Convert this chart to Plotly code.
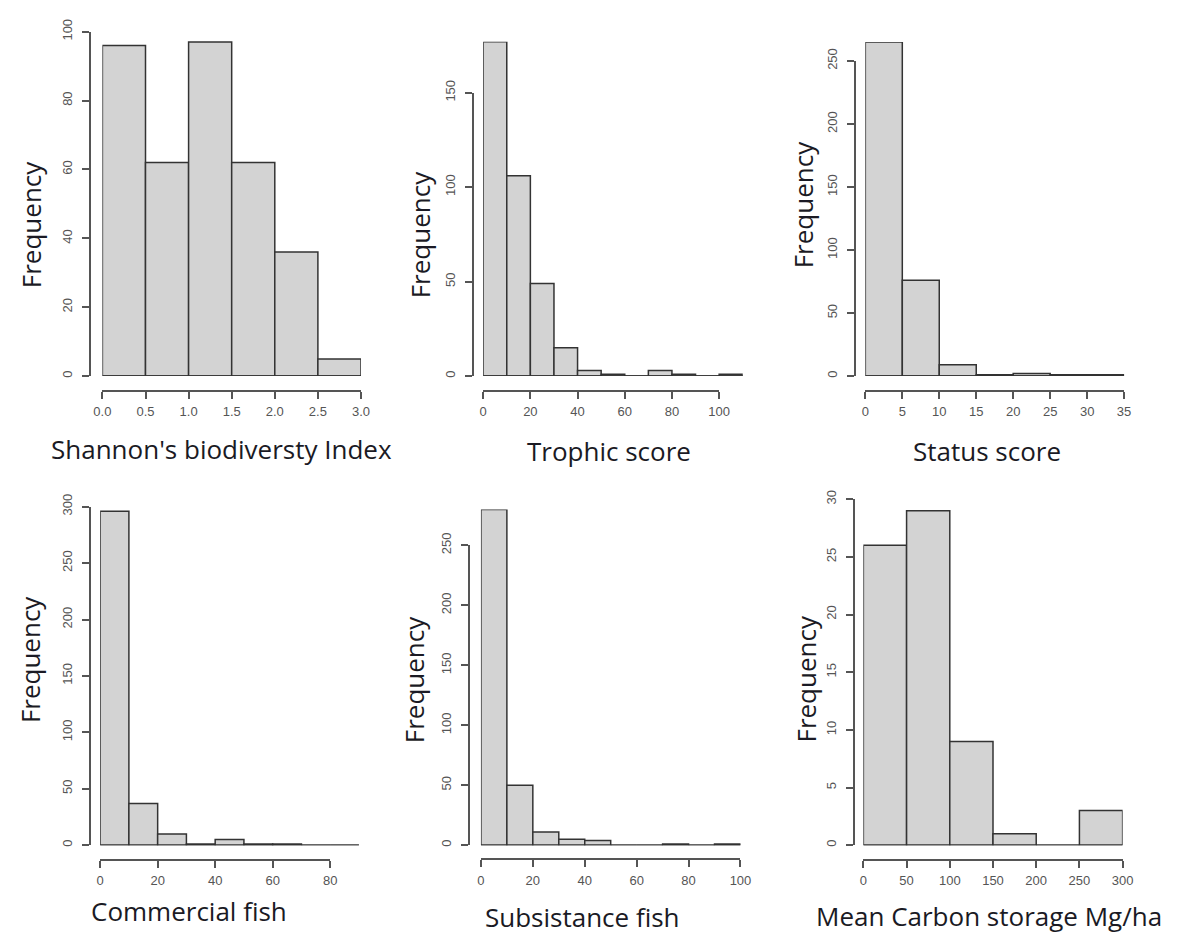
import plotly.graph_objects as go

W, H = 1188, 938

# ---------------- data ----------------
shannon_edges = [0.0, 0.5, 1.0, 1.5, 2.0, 2.5, 3.0]
shannon_counts = [96, 62, 97, 62, 36, 5]
shannon_xticks = [0.0, 0.5, 1.0, 1.5, 2.0, 2.5, 3.0]
shannon_xticklabels = ["0.0", "0.5", "1.0", "1.5", "2.0", "2.5", "3.0"]
shannon_yticks = [0, 20, 40, 60, 80, 100]

trophic_edges = [0, 10, 20, 30, 40, 50, 60, 70, 80, 90, 100, 110]
trophic_counts = [177, 106, 49, 15, 3, 1, 0, 3, 1, 0, 1]
trophic_xticks = [0, 20, 40, 60, 80, 100]
trophic_yticks = [0, 50, 100, 150]

status_edges = [0, 5, 10, 15, 20, 25, 30, 35]
status_counts = [265, 76, 9, 1, 2, 1, 1]
status_xticks = [0, 5, 10, 15, 20, 25, 30, 35]
status_yticks = [0, 50, 100, 150, 200, 250]

commercial_edges = [0, 10, 20, 30, 40, 50, 60, 70, 80, 90]
commercial_counts = [296, 37, 10, 1, 5, 1, 1, 0, 0]
commercial_xticks = [0, 20, 40, 60, 80]
commercial_yticks = [0, 50, 100, 150, 200, 250, 300]

subsistence_edges = [0, 10, 20, 30, 40, 50, 60, 70, 80, 90, 100]
subsistence_counts = [280, 50, 11, 5, 4, 0, 0, 1, 0, 1]
subsistence_xticks = [0, 20, 40, 60, 80, 100]
subsistence_yticks = [0, 50, 100, 150, 200, 250]

carbon_edges = [0, 50, 100, 150, 200, 250, 300]
carbon_counts = [26, 29, 9, 1, 0, 3]
carbon_xticks = [0, 50, 100, 150, 200, 250, 300]
carbon_yticks = [0, 5, 10, 15, 20, 25, 30]

x_titles = ["Shannon's biodiversty Index", "Trophic score", "Status score",
            "Commercial fish", "Subsistance fish", "Mean Carbon storage Mg/ha"]
y_title = "Frequency"

# ---------------- layout (pixel geometry) ----------------
# (x0px, px per unit, y0px, px per unit, y-axis line x, x-axis line y,
#  title cx, title cy, ylabel cx, ylabel cy)
geom = [
    (95.0, 87.67, 369.0, 3.50, 82, 384, 216, 443, 22, 215),
    (482.3, 2.40, 369.0, 1.92, 472, 384, 610, 445, 418, 225),
    (871.0, 7.52, 369.0, 1.281, 860, 384, 995, 445, 807, 195),
    (92.7, 2.925, 845.7, 1.1467, 82, 860.7, 183, 913, 22, 657),
    (480.0, 2.64, 845.7, 1.2187, 468, 860, 583, 919, 412, 678),
    (869.0, 0.879, 845.7, 11.72, 859, 860.7, 997, 918, 811, 677),
]

panels = [
    (shannon_edges, shannon_counts, shannon_xticks, shannon_xticklabels, shannon_yticks),
    (trophic_edges, trophic_counts, trophic_xticks, None, trophic_yticks),
    (status_edges, status_counts, status_xticks, None, status_yticks),
    (commercial_edges, commercial_counts, commercial_xticks, None, commercial_yticks),
    (subsistence_edges, subsistence_counts, subsistence_xticks, None, subsistence_yticks),
    (carbon_edges, carbon_counts, carbon_xticks, None, carbon_yticks),
]

FILL = "#d3d3d3"
EDGE = "#333333"
AXC = "#555555"
TICKFONT = dict(family="Liberation Sans, Arial, sans-serif", size=13, color="#555555")
TITLEFONT = dict(family="Open Sans, sans-serif", size=26, color="#1a1a24")

fig = go.Figure()
layout = dict(width=W, height=H, margin=dict(l=0, r=0, t=0, b=0),
              paper_bgcolor="white", plot_bgcolor="rgba(0,0,0,0)",
              showlegend=False, annotations=[])


def fx(px):
    return px / W


def fy(py):
    return 1 - py / H


for i, ((edges, counts, xt, xtl, yt), g) in enumerate(zip(panels, geom)):
    x0, xs, y0, ys, yline, xline, tcx, tcy, lcx, lcy = g
    m = 2 * i + 1
    d = 2 * i + 2
    mx = "x" if m == 1 else f"x{m}"
    my = "y" if m == 1 else f"y{m}"
    mxk = "xaxis" if m == 1 else f"xaxis{m}"
    myk = "yaxis" if m == 1 else f"yaxis{m}"

    centers = [(edges[k] + edges[k + 1]) / 2 for k in range(len(counts))]
    widths = [edges[k + 1] - edges[k] for k in range(len(counts))]
    # baseline of the histogram (bottom edges of all bins, incl. empty ones)
    fig.add_trace(go.Scatter(x=[edges[0], edges[-1]], y=[0, 0], mode="lines",
                             line=dict(color=EDGE, width=1.5), xaxis=mx, yaxis=my,
                             hoverinfo="skip", cliponaxis=False))
    fig.add_trace(go.Bar(x=centers, y=counts, width=widths, xaxis=mx, yaxis=my,
                         marker=dict(color=FILL, line=dict(color=EDGE, width=1.5)),
                         hoverinfo="x+y", cliponaxis=False))

    xmin, xmax = edges[0], edges[-1]
    ytop = max(max(counts), yt[-1])
    layout[mxk] = dict(range=[xmin, xmax], domain=[fx(x0 + xmin * xs), fx(x0 + xmax * xs)],
                       anchor=my, visible=False, fixedrange=True)
    layout[myk] = dict(range=[0, ytop], domain=[fy(y0), fy(y0 - ytop * ys)],
                       anchor=mx, visible=False, fixedrange=True)

    # R-style detached axes
    dx = f"x{d}"
    dy = f"y{d}"
    fig.add_trace(go.Scatter(x=[xt[0], xt[-1]], y=[yt[0], yt[-1]], mode="none",
                             xaxis=dx, yaxis=dy, hoverinfo="skip"))
    xax = dict(range=[xt[0], xt[-1]], domain=[fx(x0 + xt[0] * xs), fx(x0 + xt[-1] * xs)],
               anchor="free", position=fy(xline), showline=True, linecolor=AXC,
               linewidth=1.5, ticks="outside", ticklen=7, tickwidth=1.5, tickcolor=AXC,
               tickvals=xt, showgrid=False, zeroline=False, tickfont=TICKFONT,
               ticklabelstandoff=2, fixedrange=True)
    if xtl is not None:
        xax["ticktext"] = xtl
    layout[f"xaxis{d}"] = xax
    layout[f"yaxis{d}"] = dict(range=[yt[0], yt[-1]],
                               domain=[fy(y0 - yt[0] * ys), fy(y0 - yt[-1] * ys)],
                               anchor="free", position=fx(yline), showline=True,
                               linecolor=AXC, linewidth=1.5, ticks="outside", ticklen=7,
                               tickwidth=1.5, tickcolor=AXC, tickvals=yt, tickangle=-90,
                               showgrid=False, zeroline=False, tickfont=TICKFONT,
                               ticklabelstandoff=5, fixedrange=True)

    layout["annotations"].append(dict(text=x_titles[i], x=fx(tcx), y=fy(tcy), xref="paper",
                                      yref="paper", xanchor="center", yanchor="middle",
                                      showarrow=False, font=TITLEFONT))
    layout["annotations"].append(dict(text=y_title, x=fx(lcx), y=fy(lcy), xref="paper",
                                      yref="paper", xanchor="center", yanchor="middle",
                                      textangle=-90, showarrow=False, font=TITLEFONT))

fig.update_layout(**layout)
fig.write_html("out.html", config={"responsive": False, "displayModeBar": False},
               post_script="document.body.style.margin='0';"
                           "document.body.style.overflow='hidden';")
